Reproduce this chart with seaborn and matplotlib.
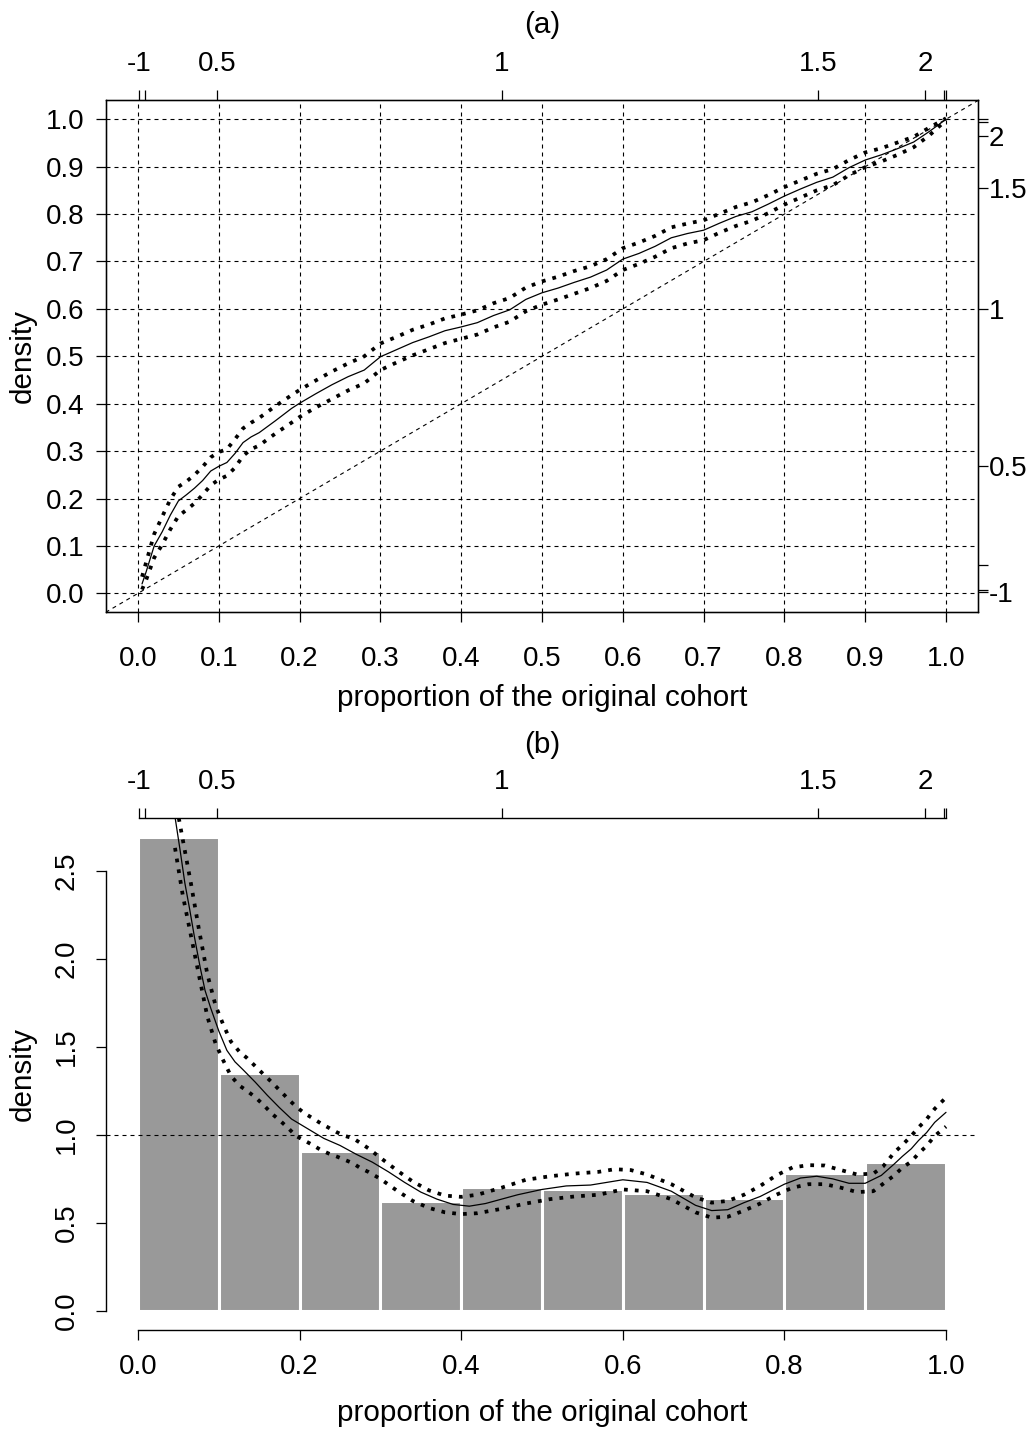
import numpy as np
import pandas as pd
import matplotlib
matplotlib.use("Agg")
import matplotlib.pyplot as plt
import seaborn as sns

# ---------------- data: panel (a) relative CDF ----------------
a_x = [0.005, 0.01, 0.02, 0.03, 0.04, 0.05, 0.06, 0.07, 0.08, 0.09, 0.10, 0.11, 0.12,
       0.13, 0.14, 0.15, 0.17, 0.19, 0.20, 0.22, 0.24, 0.26, 0.28, 0.30, 0.32, 0.34,
       0.36, 0.38, 0.40, 0.42, 0.44, 0.46, 0.48, 0.50, 0.52, 0.54, 0.56, 0.58, 0.60,
       0.62, 0.64, 0.66, 0.68, 0.70, 0.72, 0.74, 0.76, 0.78, 0.80, 0.82, 0.84, 0.86,
       0.88, 0.90, 0.92, 0.94, 0.96, 0.98, 1.00]
a_cdf = [0.020, 0.045, 0.100, 0.130, 0.165, 0.195, 0.208, 0.222, 0.238, 0.258, 0.268,
         0.276, 0.295, 0.318, 0.330, 0.339, 0.364, 0.390, 0.401, 0.421, 0.440, 0.457,
         0.471, 0.499, 0.514, 0.529, 0.541, 0.554, 0.562, 0.571, 0.586, 0.598, 0.620,
         0.634, 0.644, 0.656, 0.667, 0.682, 0.705, 0.717, 0.732, 0.750, 0.759, 0.766,
         0.781, 0.795, 0.805, 0.821, 0.838, 0.853, 0.867, 0.878, 0.898, 0.914, 0.925,
         0.938, 0.952, 0.975, 1.000]
a_upper = [0.035, 0.065, 0.125, 0.162, 0.198, 0.225, 0.236, 0.250, 0.267, 0.287, 0.298,
           0.304, 0.325, 0.348, 0.360, 0.370, 0.395, 0.418, 0.429, 0.449, 0.468, 0.485,
           0.500, 0.527, 0.541, 0.556, 0.567, 0.580, 0.588, 0.597, 0.612, 0.623, 0.645,
           0.658, 0.668, 0.680, 0.690, 0.705, 0.728, 0.740, 0.754, 0.772, 0.780, 0.787,
           0.801, 0.815, 0.825, 0.840, 0.857, 0.871, 0.885, 0.895, 0.914, 0.930, 0.939,
           0.951, 0.963, 0.983, 1.002]
a_lower = [0.008, 0.028, 0.075, 0.103, 0.135, 0.163, 0.176, 0.190, 0.208, 0.228, 0.240,
           0.248, 0.265, 0.290, 0.304, 0.312, 0.337, 0.360, 0.372, 0.392, 0.410, 0.428,
           0.443, 0.471, 0.487, 0.502, 0.515, 0.528, 0.537, 0.546, 0.561, 0.573, 0.595,
           0.609, 0.620, 0.632, 0.644, 0.659, 0.682, 0.695, 0.710, 0.728, 0.738, 0.745,
           0.761, 0.775, 0.786, 0.802, 0.820, 0.835, 0.850, 0.861, 0.882, 0.899, 0.911,
           0.925, 0.941, 0.967, 0.998]

# ---------------- data: panel (b) relative density ----------------
bin_edges = [0.0, 0.1, 0.2, 0.3, 0.4, 0.5, 0.6, 0.7, 0.8, 0.9, 1.0]
bar_heights = [2.69, 1.35, 0.91, 0.625, 0.705, 0.69, 0.67, 0.64, 0.786, 0.848]

b_x = [0.046, 0.052, 0.058, 0.064, 0.070, 0.077, 0.083, 0.090, 0.100, 0.110, 0.120,
       0.130, 0.145, 0.160, 0.175, 0.190, 0.210, 0.230, 0.250, 0.270, 0.290, 0.310,
       0.330, 0.350, 0.370, 0.390, 0.410, 0.430, 0.450, 0.470, 0.500, 0.530, 0.560,
       0.600, 0.630, 0.660, 0.690, 0.710, 0.730, 0.750, 0.770, 0.800, 0.820, 0.840,
       0.860, 0.880, 0.900, 0.920, 0.936, 0.946, 0.957, 0.966, 0.976, 0.986, 1.000]
b_dens = [2.80, 2.62, 2.43, 2.28, 2.12, 1.95, 1.82, 1.72, 1.59, 1.48, 1.415, 1.37, 1.30,
          1.225, 1.155, 1.09, 1.035, 0.98, 0.94, 0.89, 0.845, 0.79, 0.73, 0.675, 0.635,
          0.605, 0.595, 0.61, 0.635, 0.66, 0.69, 0.71, 0.715, 0.745, 0.73, 0.68, 0.60,
          0.57, 0.575, 0.615, 0.65, 0.72, 0.755, 0.765, 0.75, 0.725, 0.725, 0.77, 0.835,
          0.878, 0.921, 0.968, 1.013, 1.071, 1.128]

b_up_x = [0.048, 0.0553, 0.0656, 0.0755, 0.0858, 0.0961, 0.1056, 0.115, 0.1254, 0.135,
          0.1456, 0.156, 0.166, 0.176, 0.186, 0.1955, 0.206, 0.216, 0.226, 0.237, 0.246,
          0.256, 0.266, 0.2756, 0.285, 0.30, 0.32, 0.34, 0.36, 0.38, 0.40, 0.42, 0.45,
          0.48, 0.51, 0.54, 0.57, 0.59, 0.61, 0.63, 0.66, 0.69, 0.71, 0.73, 0.75, 0.77,
          0.79, 0.81, 0.83, 0.85, 0.87, 0.89, 0.91, 0.922, 0.936, 0.946, 0.957, 0.966,
          0.976, 0.986, 1.0]
b_up_y = [2.86, 2.68, 2.426, 2.165, 1.913, 1.733, 1.625, 1.53, 1.473, 1.436, 1.388,
          1.341, 1.297, 1.25, 1.203, 1.161, 1.123, 1.095, 1.066, 1.038, 1.015, 0.994,
          0.981, 0.953, 0.924, 0.87, 0.80, 0.735, 0.685, 0.655, 0.648, 0.66, 0.70, 0.745,
          0.765, 0.78, 0.79, 0.805, 0.80, 0.775, 0.72, 0.645, 0.615, 0.625, 0.66, 0.71,
          0.77, 0.815, 0.828, 0.826, 0.80, 0.775, 0.78, 0.82, 0.90, 0.943, 0.994, 1.042,
          1.089, 1.148, 1.212]
b_lo_x = [0.0458, 0.0553, 0.0656, 0.0755, 0.0858, 0.0961, 0.1056, 0.115, 0.1254, 0.135,
          0.1456, 0.156, 0.166, 0.176, 0.186, 0.1955, 0.206, 0.216, 0.226, 0.237, 0.246,
          0.256, 0.266, 0.2756, 0.285, 0.30, 0.32, 0.34, 0.36, 0.38, 0.40, 0.42, 0.45,
          0.48, 0.51, 0.54, 0.57, 0.60, 0.63, 0.66, 0.69, 0.71, 0.73, 0.75, 0.77, 0.79,
          0.81, 0.83, 0.85, 0.87, 0.89, 0.91, 0.936, 0.946, 0.957, 0.966, 0.976, 0.986, 1.0]
b_lo_y = [2.63, 2.364, 2.13, 1.905, 1.672, 1.517, 1.422, 1.335, 1.28, 1.25, 1.212, 1.167,
          1.119, 1.08, 1.038, 0.994, 0.968, 0.943, 0.915, 0.892, 0.877, 0.858, 0.839,
          0.81, 0.79, 0.75, 0.685, 0.625, 0.585, 0.56, 0.55, 0.555, 0.58, 0.61, 0.635,
          0.65, 0.66, 0.69, 0.68, 0.635, 0.56, 0.53, 0.535, 0.57, 0.61, 0.66, 0.70, 0.72,
          0.72, 0.70, 0.675, 0.68, 0.77, 0.814, 0.848, 0.894, 0.9375, 0.994, 1.047]

# ---------------- axis tick labels ----------------
grid_vals = [0.0, 0.1, 0.2, 0.3, 0.4, 0.5, 0.6, 0.7, 0.8, 0.9, 1.0]
grid_labels = ["0.0", "0.1", "0.2", "0.3", "0.4", "0.5", "0.6", "0.7", "0.8", "0.9", "1.0"]
top_ticks = [0.001, 0.0087, 0.0975, 0.4505, 0.842, 0.974, 0.997, 1.0006]
top_labels = ["-1", "", "0.5", "1", "1.5", "2", "", ""]
right_ticks = [0.0034, 0.007, 0.0597, 0.2686, 0.599, 0.854, 0.965, 0.994, 1.0]
right_labels = ["-1", "", "", "0.5", "1", "1.5", "2", "", ""]
b_xticks = [0.0, 0.2, 0.4, 0.6, 0.8, 1.0]
b_xlabels = ["0.0", "0.2", "0.4", "0.6", "0.8", "1.0"]
b_yticks = [0.0, 0.5, 1.0, 1.5, 2.0, 2.5]
b_ylabels = ["0.0", "0.5", "1.0", "1.5", "2.0", "2.5"]

# ---------------- style ----------------
sns.set_style("ticks", rc={"axes.edgecolor": "black", "xtick.color": "black",
                           "ytick.color": "black", "text.color": "black",
                           "axes.labelcolor": "black"})
plt.rcParams['font.family'] = ['Liberation Sans', 'DejaVu Sans']
FS = 20
LFS = 21.3

fig = plt.figure(figsize=(10.27, 14.35), dpi=100)

GRID = dict(color="black", lw=0.8, linestyle=(0, (3.6, 3.6)), zorder=1)
BAND = dict(color="black", lw=2.7, linestyle=(0, (1, 1.9)), dash_capstyle="butt", zorder=4)
TICK = dict(direction="out", length=7.5, width=0.9, labelsize=FS)

# ================= panel (a) =================
axA = fig.add_axes([0.1029, 0.5733, 0.8497, 0.3568])
axA.set_xlim(-0.04, 1.04)
axA.set_ylim(-0.04, 1.04)
for v in grid_vals:
    axA.axvline(v, **GRID)
    axA.axhline(v, **GRID)
axA.axline((0, 0), (1, 1), color="black", lw=0.8, linestyle=(0, (3.6, 3.6)), zorder=1)
sns.lineplot(x=a_x, y=a_cdf, ax=axA, color="black", lw=0.9, estimator=None, sort=False, zorder=5)
axA.plot(a_x, a_upper, **BAND)
axA.plot(a_x, a_lower, **BAND)
axA.set_xticks(grid_vals)
axA.set_xticklabels(grid_labels)
axA.set_yticks(grid_vals)
axA.set_yticklabels(grid_labels)
axA.tick_params(axis="x", pad=17, **TICK)
axA.tick_params(axis="y", pad=8, **TICK)
for s in axA.spines.values():
    s.set_linewidth(1.0)
axA.set_xlabel("proportion of the original cohort", fontsize=LFS)
axA.xaxis.set_label_coords(0.5, -0.14)
axA.set_ylabel("density", fontsize=LFS)
axA.yaxis.set_label_coords(-0.079, 0.5)

axAt = axA.twiny()
axAt.set_xlim(axA.get_xlim())
axAt.set_xticks(top_ticks)
axAt.set_xticklabels(top_labels)
axAt.tick_params(axis="x", pad=9, **TICK)

axAr = axA.twinx()
axAr.set_ylim(axA.get_ylim())
axAr.set_yticks(right_ticks)
axAr.set_yticklabels(right_labels)
axAr.tick_params(axis="y", pad=0, **TICK)
axAr.grid(False)
axAt.grid(False)

fig.text(0.5277, 1 - 25 / 1435, "(a)", ha="center", va="center", fontsize=LFS)

# ================= panel (b) =================
axB = fig.add_axes([0.1029, 0.0732, 0.8497, 0.3568])
bin_mids = [(bin_edges[i] + bin_edges[i + 1]) / 2 for i in range(len(bar_heights))]
sns.histplot(x=bin_mids, weights=bar_heights, bins=bin_edges, stat="count",
             color="#999999", edgecolor="white", linewidth=2.2, alpha=1.0, ax=axB, zorder=2)
axB.set_xlim(-0.04, 1.04)
axB.set_ylim(-0.108, 2.80)
axB.axhline(1.0, color="black", lw=0.8, linestyle=(0, (3.6, 3.6)), zorder=3)
sns.lineplot(x=b_x, y=b_dens, ax=axB, color="black", lw=0.9, estimator=None, sort=False, zorder=5)
axB.plot(b_up_x, b_up_y, **BAND)
axB.plot(b_lo_x, b_lo_y, **BAND)
axB.spines["right"].set_visible(False)
axB.spines["top"].set_visible(False)
axB.spines["left"].set_bounds(0.0, 2.5)
axB.spines["bottom"].set_bounds(0.0, 1.0)
for s in axB.spines.values():
    s.set_linewidth(1.0)

axBt = axB.twiny()
axBt.set_xlim(axB.get_xlim())
axBt.set_xticks(top_ticks)
axBt.set_xticklabels(top_labels)
axBt.tick_params(axis="x", pad=9, **TICK)
for side in ["bottom", "left", "right"]:
    axBt.spines[side].set_visible(False)
axBt.spines["top"].set_bounds(top_ticks[0], top_ticks[-1])
axBt.spines["top"].set_linewidth(1.0)

axB.set_xticks(b_xticks)
axB.set_xticklabels(b_xlabels)
axB.set_yticks(b_yticks)
axB.set_yticklabels(b_ylabels, rotation=90, va="center")
axB.tick_params(axis="x", pad=10, **TICK)
axB.tick_params(axis="y", pad=11, **TICK)
axB.set_ylim(-0.108, 2.80)
axB.set_xlabel("proportion of the original cohort", fontsize=LFS)
axB.xaxis.set_label_coords(0.5, -0.135)
axB.set_ylabel("density", fontsize=LFS)
axB.yaxis.set_label_coords(-0.079, 0.5)

fig.text(0.5277, 1 - 745 / 1435, "(b)", ha="center", va="center", fontsize=LFS)

fig.savefig("out.png", dpi=100)
